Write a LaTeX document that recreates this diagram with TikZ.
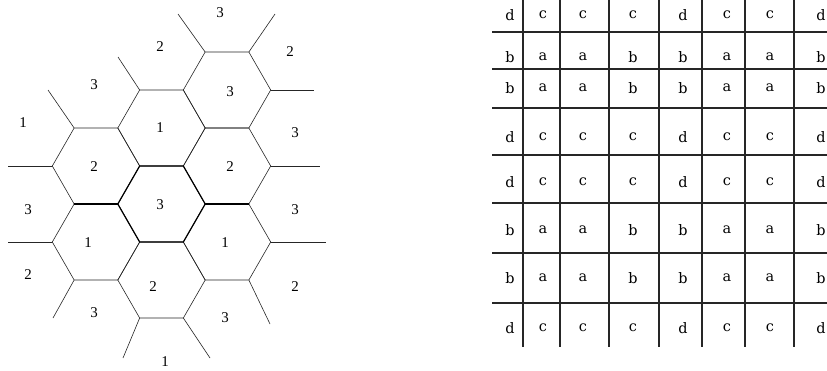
\documentclass[tikz,border=0pt]{standalone}
\usepackage{fontspec}
\setmainfont{Liberation Serif}
\newfontfamily\gridfont{DejaVu Serif}
\begin{document}
\begin{tikzpicture}[x=1bp,y=-1bp,
  hexline/.style={line width=0.6bp,black!85},
  boldline/.style={line width=1.2bp,black},
  gridline/.style={line width=1.1bp,black!85},
  num/.style={font=\fontsize{15}{17}\selectfont,inner sep=0pt},
  let/.style={font=\gridfont\fontsize{14.5}{16}\selectfont,inner sep=0pt}]
\useasboundingbox (0,0) rectangle (827,370);
\def\s{43.7}\def\h{38}
% hexagons
\foreach \cx/\cy in {96/166,96/242,161.5/128,161.5/280,227/90,227/166,227/242}{
  \draw[hexline] (\cx+\s,\cy) -- (\cx+\s/2,\cy-\h) -- (\cx-\s/2,\cy-\h) -- (\cx-\s,\cy)
     -- (\cx-\s/2,\cy+\h) -- (\cx+\s/2,\cy+\h) -- cycle;
}
% central hexagon, bold
\draw[boldline] (161.5+\s,204) -- (161.5+\s/2,204-\h) -- (161.5-\s/2,204-\h) -- (161.5-\s,204)
   -- (161.5-\s/2,204+\h) -- (161.5+\s/2,204+\h) -- cycle;
\draw[boldline] (96-\s/2,204) -- (96+\s/2,204);
\draw[boldline] (227-\s/2,204) -- (227+\s/2,204);
% stubs
\draw[hexline] (227-\s/2,52) -- (178,14);
\draw[hexline] (227+\s/2,52) -- (275,14);
\draw[hexline] (227+\s,90) -- (314,90);
\draw[hexline] (161.5-\s/2,90) -- (118,57);
\draw[hexline] (96-\s/2,128) -- (48,90);
\draw[hexline] (96-\s,166) -- (8,166);
\draw[hexline] (227+\s,166) -- (320,166);
\draw[hexline] (96-\s,242) -- (8,242);
\draw[hexline] (96-\s/2,280) -- (53,318);
\draw[hexline] (227+\s,242) -- (326,242);
\draw[hexline] (227+\s/2,280) -- (270,324);
\draw[hexline] (161.5-\s/2,318) -- (123,358);
\draw[hexline] (161.5+\s/2,318) -- (210,358);
% labels
\foreach \x/\y/\t [count=\i] in {220/13/3, 160/47/2, 290/52/2, 94/85/3, 230/92/3, 23/123/1,
  160/128/1, 295/133/3, 94/167/2, 230/167/2, 28/210/3, 160/205/3, 295/210/3,
  88/243/1, 225/243/1, 28/275/2, 153/287/2, 295/287/2, 94/313/3, 225/318/3, 165/362/1}{
  \node[num] (n\i) at (\x,\y) {\t};
}
% grid
\foreach \x in {523,560,609,659,702,745,794}{\draw[gridline] (\x,0) -- (\x,347);}
\foreach \y in {32,69,108,155,203,253,303}{\draw[gridline] (492,\y) -- (827,\y);}
\foreach \y [count=\r] in {15,137,182,328}{
  \foreach \x/\t [count=\c] in {510/d,543/c,583/c,633/c,683/d,727/c,770/c,821/d}{
    \node[let] (d\r-\c) at (\x,\y) {\t};
  }
}
\foreach \y [count=\r] in {57,88,230,278}{
  \foreach \x/\t [count=\c] in {510/b,543/a,583/a,633/b,683/b,727/a,770/a,821/b}{
    \node[let] (b\r-\c) at (\x,\y) {\t};
  }
}
\end{tikzpicture}
\end{document}
